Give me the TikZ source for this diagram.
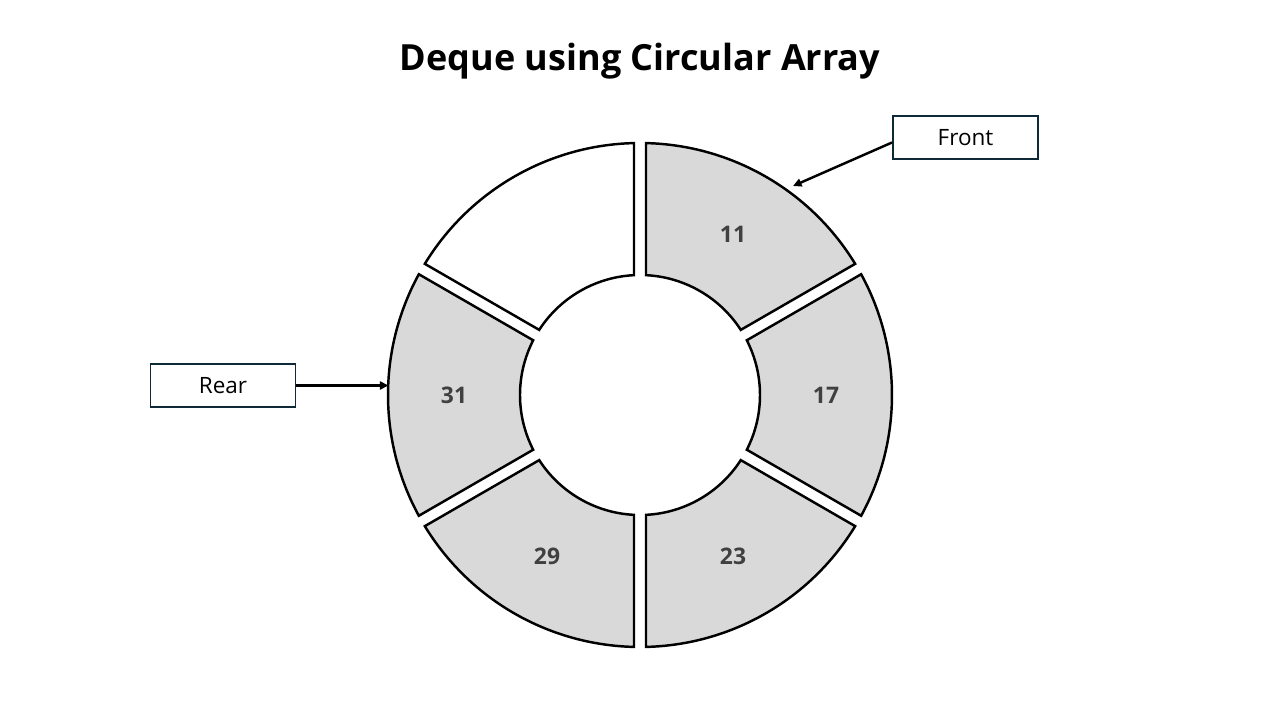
\documentclass[tikz,border=0pt]{standalone}
\usepackage{fontspec}
\setmainfont{Open Sans}
\usepackage{tikz}
\usetikzlibrary{arrows.meta, positioning, calc}

\definecolor{cellgray}{HTML}{D9D9D9}
\definecolor{numgray}{HTML}{404040}
\definecolor{boxline}{HTML}{0E2A38}

% one ring cell between angles #1 and #2, gap kept parallel
\newcommand{\ringcell}[3]{%
  \draw[cell, #3] (#1+1.364:5.04) arc[start angle=#1+1.364, end angle=#2-1.364, radius=5.04]
    -- (#2-2.866:2.4) arc[start angle=#2-2.866, end angle=#1+2.866, radius=2.4] -- cycle;
}

\begin{document}
\begin{tikzpicture}[
    every node/.style={font=\fontsize{12.8}{15}\selectfont},
    cell/.style={draw=black, line width=1.4pt, line join=miter},
    ptrbox/.style={rectangle, draw=boxline, line width=1.1pt, fill=white, minimum width=2.9cm, minimum height=0.86cm, align=center},
    num/.style={font=\fontsize{13}{15}\selectfont\bfseries, text=numgray},
    arrow/.style={-{Triangle[length=1.7mm, width=1.6mm]}, line width=1.4pt, black}
]
\useasboundingbox (-12.8,-6.5) rectangle (12.8,7.9);

\node (title) [font=\fontsize{20.5}{24}\selectfont\bfseries] at (0,6.68) {Deque using Circular Array};

% the six cells
\ringcell{30}{90}{fill=cellgray}
\ringcell{-30}{30}{fill=cellgray}
\ringcell{-90}{-30}{fill=cellgray}
\ringcell{-150}{-90}{fill=cellgray}
\ringcell{150}{210}{fill=cellgray}
\ringcell{90}{150}{fill=white}

\node (c11) [num] at (60:3.72) {11};
\node (c17) [num] at (0:3.72) {17};
\node (c23) [num] at (-60:3.72) {23};
\node (c29) [num] at (-120:3.72) {29};
\node (c31) [num] at (180:3.72) {31};

\node (front) [ptrbox] at (6.51,5.15) {Front};
\node (rear) [ptrbox] at (-8.34,0.19) {Rear};

\coordinate (fp) at (3.06,4.18);
\coordinate (rp) at (-5.03,0.19);

\draw [arrow] ($(front.west)+(0,-0.1)$) -- (fp);
\draw [arrow] (rear.east) -- (rp);
\end{tikzpicture}
\end{document}
